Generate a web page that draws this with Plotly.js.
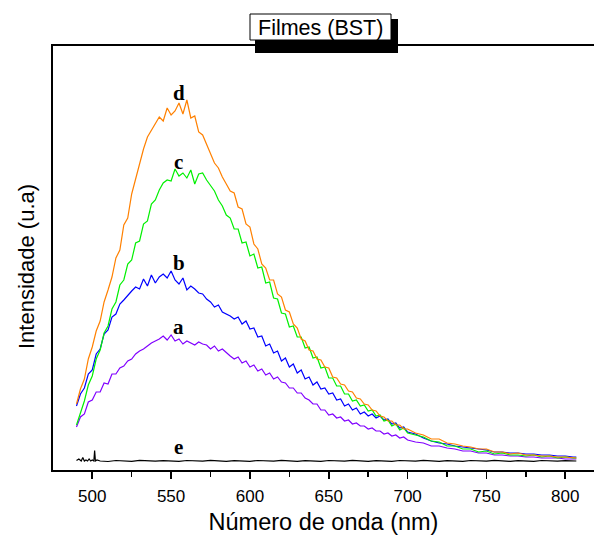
<!DOCTYPE html>
<html>
<head>
<meta charset="utf-8">
<script src="https://cdn.plot.ly/plotly-3.0.1.min.js"></script>
<style>html,body{margin:0;padding:0;background:#fff;}#chart{width:594px;height:535px;}</style>
</head>
<body>
<div id="chart"></div>
<script>
// Wavelength (nm) shared by curves a-d
const wavelength = [490,492.5,495,497.5,500,502.5,505,507.5,510,512.5,515,517.5,520,522.5,525,527.5,530,532.5,535,537.5,540,542.5,545,547.5,550,552.5,555,557.5,560,562.5,565,567.5,570,572.5,575,577.5,580,582.5,585,587.5,590,592.5,595,597.5,600,602.5,605,607.5,610,612.5,615,617.5,620,622.5,625,627.5,630,632.5,635,637.5,640,642.5,645,647.5,650,652.5,655,657.5,660,662.5,665,667.5,670,672.5,675,677.5,680,682.5,685,687.5,690,692.5,695,697.5,700,705,710,715,720,725,730,735,740,745,750,755,760,765,770,775,780,785,790,795,800,805,807];

const intensityA = [43,53,56,68,70,78,78,87,86,96,96,102,104,109,111,116,119,121,124,127,129,131,134,130,135,129,131,126,129,127,125,128,126,125,121,124,119,121,117,114,111,113,107,109,103,105,99,101,95,97,91,93,88,87,82,82,77,77,72,70,66,66,60,60,55,56,52,53,49,50,46,47,44,44,41,42,39,39,36,37,34,35,32,33,30,28,27,24,24,22,21,19,19,17,17,15,15,14,14,13,13,12,12,12,11,11,11];

const intensityB = [64,76,82,96,100,116,121,136,140,153,156,166,170,175,179,183,181,191,184,195,187,193,196,192,199,190,186,192,180,184,181,177,176,171,168,163,165,158,156,154,151,153,146,149,141,142,133,134,124,126,117,119,109,112,103,106,97,100,91,93,85,88,81,82,76,77,70,71,64,66,60,62,56,58,54,56,52,54,50,51,46,47,42,43,38,36,32,29,27,26,24,23,22,21,20,18,18,17,17,16,16,15,15,14,14,13,13];

const intensityC = [45,58,69,85,94,111,120,137,144,161,168,185,190,206,210,227,229,246,249,266,270,280,287,290,289,301,294,297,292,300,286,296,297,290,284,279,270,264,255,252,241,241,227,228,214,216,202,203,187,188,172,171,157,156,143,144,133,133,122,123,112,113,102,103,92,92,84,84,76,76,69,70,64,65,59,60,54,55,49,50,44,46,40,42,37,35,33,29,28,24,24,21,21,18,19,16,17,15,15,14,15,13,14,12,13,12,12];

const intensityD = [66,81,91,111,123,139,149,168,180,193,212,220,245,252,276,292,308,321,333,340,346,353,349,362,355,359,367,356,370,352,354,338,335,325,316,307,302,293,286,279,277,263,261,246,243,226,221,206,202,190,190,176,173,160,158,146,142,131,129,120,119,111,110,103,102,93,92,86,85,79,78,72,71,66,65,60,59,54,53,49,49,45,45,41,41,37,35,31,31,27,26,24,23,21,21,18,18,16,17,15,15,14,14,13,13,12,12];

// Curve e (reference, near zero)
const wavelengthE = [490,491.5,493,494,495,496,497,498,499,500,501,501.5,502,503,505,510,515,520,525,530,535,540,545,550,555,560,565,570,575,580,585,590,595,600,605,610,615,620,625,630,635,640,645,650,655,660,665,670,675,680,685,690,695,700,705,710,715,720,725,730,735,740,745,750,755,760,765,770,775,780,785,790,795,800,805,807];
const intensityE = [9.5,11,9,12.5,9,10,9,11,9,10,9,19.5,9,10,9,8.5,9.5,9,8.7,9.6,9,8.8,9.4,9.1,8.6,9.5,9,8.8,9.7,9,8.7,9.3,9.1,8.6,9.5,9,8.9,9.6,9,8.7,9.4,9.2,8.6,9.5,9,8.8,9.6,9,8.7,9.3,9.1,8.6,9.5,9,8.9,9.6,9,8.7,9.4,9.2,8.6,9.5,9,8.8,9.6,9,8.7,9.3,9.1,8.6,9.5,9,8.9,9.4,9,9];

const seriesNames = ['a','b','c','d','e'];
const seriesColors = ['#8000FF','#0000FF','#00F000','#FF8000','#000000'];
// label anchor positions (data units)
const labelX = [554.8,554.8,554.8,554.8,554.8];
const labelY = [143,207,308,377,23];

const tickValues = [500,550,600,650,700,750,800];
const tickText = ['500','550','600','650','700','750','800'];

const xs = [wavelength,wavelength,wavelength,wavelength,wavelengthE];
const ys = [intensityA,intensityB,intensityC,intensityD,intensityE];

const traces = seriesNames.map((n,i)=>({
  type:'scatter', mode:'lines', name:n, x:xs[i], y:ys[i],
  line:{color:seriesColors[i], width:1.2}, hoverinfo:'skip'
}));

const sans = 'Liberation Sans, Arial, sans-serif';

const W = 594, H = 535, L = 53, R = 0, T = 46, B = 65;
const pw = W-L-R, ph = H-T-B;
const px = v => (v-L)/pw;
const py = v => (H-B-v)/ph;

const annotations = seriesNames.map((n,i)=>({
  x:labelX[i], y:labelY[i], xref:'x', yref:'y', text:n, showarrow:false,
  xanchor:'center', yanchor:'middle',
  font:{family:'Liberation Serif, Times New Roman, serif', size:21, color:'#000', weight:'bold'}
}));
annotations.push({
  x:px(320.5), y:py(27.5), xref:'paper', yref:'paper', text:'Filmes (BST)', showarrow:false,
  xanchor:'center', yanchor:'middle',
  font:{family:sans, size:21.5, color:'#000'}
});
annotations.push({
  x:px(26), y:py(267), xref:'paper', yref:'paper', text:'Intensidade (u.a)', showarrow:false,
  xanchor:'center', yanchor:'middle',
  textangle:-90, font:{family:sans, size:22, color:'#000'}
});

const layout = {
  width:W, height:H,
  margin:{l:L, r:R, t:T, b:B},
  paper_bgcolor:'#fff', plot_bgcolor:'rgba(0,0,0,0)',
  showlegend:false,
  xaxis:{
    range:[475.1, 818.2],
    tickvals:tickValues, ticktext:tickText,
    ticks:'outside', ticklen:7, tickwidth:1.6, tickcolor:'#000',
    ticklabelstandoff:3,
    minor:{dtick:25, tick0:0, ticks:'outside', ticklen:5, tickwidth:1.6, tickcolor:'#000', showgrid:false},
    showline:true, linecolor:'#000', linewidth:2, mirror:true,
    showgrid:false, zeroline:false,
    tickfont:{family:sans, size:17, color:'#000'},
    title:{text:'Número de onda (nm)', font:{family:sans, size:23.5, color:'#000'}, standoff:10}
  },
  yaxis:{
    range:[0,424],
    showticklabels:false, ticks:'',
    showline:true, linecolor:'#000', linewidth:2,
    showgrid:false, zeroline:false,
    title:{text:''}
  },
  shapes:[
    {type:'rect', xref:'paper', yref:'paper', x0:px(255), x1:px(398), y0:py(53), y1:py(19),
     fillcolor:'#000', line:{width:0}, layer:'below'},
    {type:'rect', xref:'paper', yref:'paper', x0:px(250), x1:px(391), y0:py(40), y1:py(14),
     fillcolor:'#fff', line:{color:'#000', width:1}, layer:'below'}
  ],
  annotations:annotations
};

Plotly.newPlot('chart', traces, layout, {staticPlot:true, displayModeBar:false});
</script>
</body>
</html>
